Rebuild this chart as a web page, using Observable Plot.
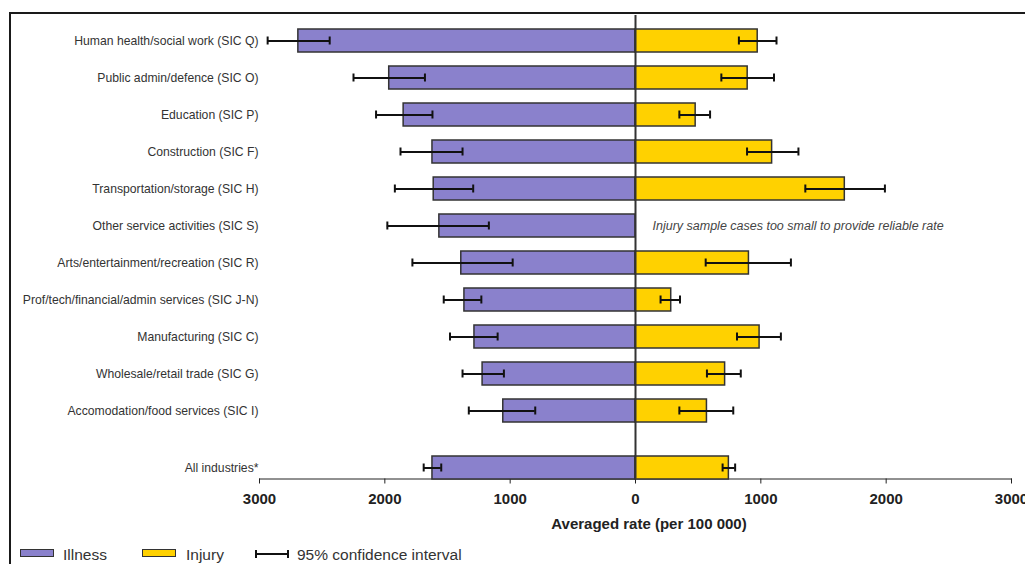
<!DOCTYPE html>
<html><head><meta charset="utf-8">
<script src="https://cdn.jsdelivr.net/npm/d3@7"></script>
<script src="https://cdn.jsdelivr.net/npm/@observablehq/plot@0.6"></script>
<style>
body{margin:0;background:#fff;font-family:"Liberation Sans",Arial,sans-serif;}
#wrap{position:relative;width:1025px;height:564px;overflow:hidden;background:#fff;}
#frame{position:absolute;left:9px;top:12px;width:1100px;height:700px;border-top:2px solid #1a1a1a;border-left:2.5px solid #1a1a1a;box-sizing:border-box;}
#topPlot{position:absolute;left:0;top:0;}
#bottomPlot{position:absolute;left:0;top:440px;}
#xtitle{position:absolute;left:449px;width:400px;top:515px;line-height:17px;text-align:center;font-weight:bold;font-size:15px;color:#222;}
.lg{position:absolute;font-size:15.5px;line-height:17px;color:#333;top:546px;}
.sw{position:absolute;top:549px;width:34px;height:8px;box-sizing:border-box;border:1.5px solid #333;}
</style></head>
<body>
<div id="wrap">
  <div id="frame"></div>
  <div id="topPlot"></div>
  <div id="bottomPlot"></div>
  <div id="xtitle"></div>
  <div class="sw" id="swIll" style="left:20px"></div>
  <div class="lg" id="lgIll" style="left:63px"></div>
  <div class="sw" id="swInj" style="left:142px"></div>
  <div class="lg" id="lgInj" style="left:186px"></div>
  <svg style="position:absolute;left:254px;top:548px" width="36" height="12">
    <line x1="2" x2="34" y1="6" y2="6" stroke="#111" stroke-width="2"/>
    <line x1="2" x2="2" y1="2" y2="10" stroke="#111" stroke-width="2"/>
    <line x1="34" x2="34" y1="2" y2="10" stroke="#111" stroke-width="2"/>
  </svg>
  <div class="lg" id="lgCI" style="left:297px"></div>
</div>
<script>
// ---- data ----
const categories = [
  "Human health/social work (SIC Q)",
  "Public admin/defence (SIC O)",
  "Education (SIC P)",
  "Construction (SIC F)",
  "Transportation/storage (SIC H)",
  "Other service activities (SIC S)",
  "Arts/entertainment/recreation (SIC R)",
  "Prof/tech/financial/admin services (SIC J-N)",
  "Manufacturing (SIC C)",
  "Wholesale/retail trade (SIC G)",
  "Accomodation/food services (SIC I)"
];
const illness   = [2690, 1965, 1850, 1620, 1610, 1565, 1390, 1365, 1285, 1220, 1055];
const illnessLo = [2440, 1680, 1620, 1380, 1295, 1170,  980, 1230, 1100, 1050,  800];
const illnessHi = [2935, 2250, 2070, 1875, 1920, 1980, 1780, 1530, 1480, 1380, 1330];
const injury    = [ 975,  895,  480, 1090, 1670, null,  905,  285,  990,  715,  570];
const injuryLo  = [ 825,  685,  350,  890, 1355, null,  560,  200,  810,  570,  350];
const injuryHi  = [1125, 1105,  595, 1300, 1990, null, 1240,  355, 1160,  840,  780];

const allCategory = "All industries*";
const allIllness = 1620, allIllnessLo = 1550, allIllnessHi = 1690;
const allInjury = 745, allInjuryLo = 695, allInjuryHi = 795;

const xTicks = [-3000, -2000, -1000, 0, 1000, 2000, 3000];
const noteCategory = "Other service activities (SIC S)";
const noteText = "Injury sample cases too small to provide reliable rate";
const xTitle = "Averaged rate (per 100 000)";
const legendLabels = ["Illness", "Injury", "95% confidence interval"];

// ---- styles ----
const purple = "#8A81CC", yellow = "#FFD100", edge = "#333", whisk = "#111";
const font = "'Liberation Sans', Arial, sans-serif";

function rowsFrom(cats, v, lo, hi) {
  return cats.map((c, i) => ({c, v: v[i], lo: lo[i], hi: hi[i]})).filter(d => d.v != null);
}
const ill = rowsFrom(categories, illness, illnessLo, illnessHi);
const inj = rowsFrom(categories, injury, injuryLo, injuryHi);
const illAll = [{c: allCategory, v: allIllness, lo: allIllnessLo, hi: allIllnessHi}];
const injAll = [{c: allCategory, v: allInjury, lo: allInjuryLo, hi: allInjuryHi}];

function barMarks(illRows, injRows, capInset) {
  return [
    Plot.barX(illRows, {y: "c", x1: 0, x2: d => -d.v, fill: purple, stroke: edge, strokeWidth: 1.5}),
    Plot.barX(injRows, {y: "c", x1: 0, x2: d => d.v, fill: yellow, stroke: edge, strokeWidth: 1.5}),
    Plot.ruleY(illRows, {y: "c", x1: d => -d.lo, x2: d => -d.hi, stroke: whisk, strokeWidth: 2}),
    Plot.tickX(illRows, {y: "c", x: d => -d.lo, stroke: whisk, strokeWidth: 2, insetTop: capInset, insetBottom: capInset}),
    Plot.tickX(illRows, {y: "c", x: d => -d.hi, stroke: whisk, strokeWidth: 2, insetTop: capInset, insetBottom: capInset}),
    Plot.ruleY(injRows, {y: "c", x1: d => d.lo, x2: d => d.hi, stroke: whisk, strokeWidth: 2}),
    Plot.tickX(injRows, {y: "c", x: d => d.lo, stroke: whisk, strokeWidth: 2, insetTop: capInset, insetBottom: capInset}),
    Plot.tickX(injRows, {y: "c", x: d => d.hi, stroke: whisk, strokeWidth: 2, insetTop: capInset, insetBottom: capInset})
  ];
}

const topChart = Plot.plot({
  width: 1025, height: 440,
  marginLeft: 259, marginRight: 14, marginTop: 12, marginBottom: 2,
  style: {fontFamily: font, fontSize: "12px", color: "#333", background: "transparent", overflow: "visible"},
  x: {domain: [-3000, 3000], axis: null},
  y: {domain: categories, padding: 0.385, axis: null},
  marks: [
    ...barMarks(ill, inj, 7.5),
    Plot.ruleX([0], {stroke: edge, strokeWidth: 2, insetTop: 3, insetBottom: -2}),
    Plot.text([noteText], {x: () => 0, y: () => noteCategory, text: d => d, textAnchor: "start", dx: 17,
      fontStyle: "italic", fontSize: 12.5, fill: "#444"}),
    Plot.axisY({tickSize: 0, tickPadding: 1, fontSize: 12.2, label: null, fill: "#333"})
  ]
});
document.getElementById("topPlot").append(topChart);

const bottomChart = Plot.plot({
  width: 1025, height: 70,
  marginLeft: 259, marginRight: 14, marginTop: 15.5, marginBottom: 31.5,
  style: {fontFamily: font, fontSize: "15px", fontWeight: "bold", color: "#222", background: "transparent"},
  x: {domain: [-3000, 3000], ticks: xTicks, tickFormat: d => String(Math.abs(d)), tickSize: 5, tickPadding: 9, line: true, label: null},
  y: {domain: [allCategory], padding: 0, axis: null},
  marks: [
    ...barMarks(illAll, injAll, 7.5),
    Plot.ruleX([0], {stroke: edge, strokeWidth: 2, insetTop: -15.5}),
    Plot.axisY({tickSize: 0, tickPadding: 1, fontSize: 12.2, fontWeight: "normal", label: null, fill: "#333"})
  ]
});
document.getElementById("bottomPlot").append(bottomChart);

document.getElementById("xtitle").textContent = xTitle;
document.getElementById("lgIll").textContent = legendLabels[0];
document.getElementById("lgInj").textContent = legendLabels[1];
document.getElementById("lgCI").textContent = legendLabels[2];
document.getElementById("swIll").style.background = purple;
document.getElementById("swInj").style.background = yellow;
</script>
</body></html>
